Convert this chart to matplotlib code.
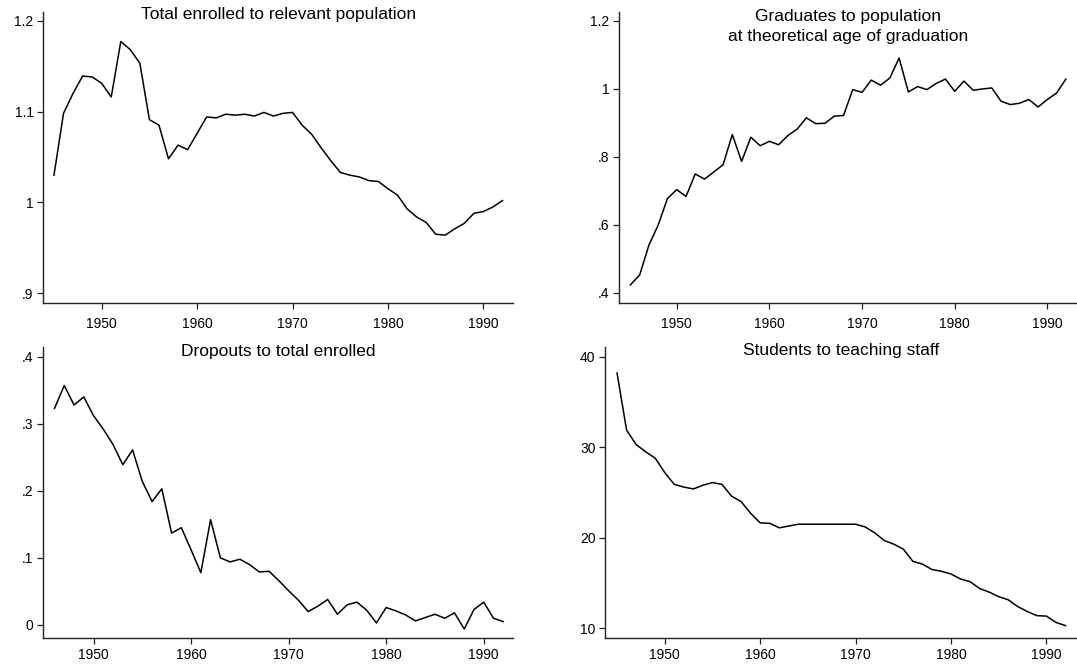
import numpy as np
import matplotlib
matplotlib.use("Agg")
import matplotlib.pyplot as plt

plt.rcParams['font.family'] = ['Liberation Sans', 'DejaVu Sans']

# ---------------- data ----------------
years = list(range(1945, 1993))
years_drop = list(range(1946, 1993))

enrolled_ratio = [1.030, 1.098, 1.120, 1.139, 1.138, 1.131, 1.116, 1.177, 1.168, 1.153,
                  1.091, 1.085, 1.048, 1.063, 1.058, 1.076, 1.094, 1.093, 1.097, 1.096,
                  1.097, 1.095, 1.099, 1.095, 1.098, 1.099, 1.085, 1.075, 1.060, 1.046,
                  1.033, 1.030, 1.028, 1.024, 1.023, 1.015, 1.008, 0.993, 0.984, 0.978,
                  0.965, 0.964, 0.971, 0.977, 0.988, 0.990, 0.995, 1.002]

graduates_ratio = [0.423, 0.452, 0.540, 0.599, 0.677, 0.703, 0.683, 0.749, 0.734, 0.755,
                   0.776, 0.865, 0.786, 0.857, 0.832, 0.845, 0.835, 0.862, 0.881, 0.914,
                   0.897, 0.898, 0.919, 0.921, 0.997, 0.989, 1.025, 1.010, 1.031, 1.090,
                   0.990, 1.006, 0.997, 1.015, 1.028, 0.992, 1.022, 0.995, 0.999, 1.002,
                   0.963, 0.953, 0.957, 0.968, 0.946, 0.968, 0.987, 1.028]

dropout_ratio = [0.323, 0.357, 0.328, 0.340, 0.312, 0.292, 0.269, 0.239, 0.261, 0.214,
                 0.184, 0.203, 0.137, 0.145, 0.112, 0.078, 0.157, 0.100, 0.094, 0.098,
                 0.090, 0.079, 0.080, 0.066, 0.051, 0.037, 0.020, 0.028, 0.038, 0.016,
                 0.030, 0.034, 0.022, 0.003, 0.026, 0.021, 0.015, 0.006, 0.011, 0.016,
                 0.010, 0.018, -0.006, 0.023, 0.034, 0.010, 0.005]

student_staff = [38.2, 31.9, 30.3, 29.5, 28.8, 27.2, 25.9, 25.6, 25.4, 25.8,
                 26.1, 25.9, 24.6, 24.0, 22.7, 21.65, 21.6, 21.1, 21.3, 21.5,
                 21.5, 21.5, 21.5, 21.5, 21.5, 21.5, 21.2, 20.55, 19.7, 19.3,
                 18.75, 17.4, 17.1, 16.5, 16.3, 16.0, 15.45, 15.15, 14.4, 14.0,
                 13.5, 13.15, 12.4, 11.85, 11.4, 11.35, 10.65, 10.3]

x_ticks = [1950, 1960, 1970, 1980, 1990]
x_ticklabels = ["1950", "1960", "1970", "1980", "1990"]

y1_ticks = [0.9, 1.0, 1.1, 1.2]
y1_labels = [".9", "1", "1.1", "1.2"]
y2_ticks = [0.4, 0.6, 0.8, 1.0, 1.2]
y2_labels = [".4", ".6", ".8", "1", "1.2"]
y3_ticks = [0.0, 0.1, 0.2, 0.3, 0.4]
y3_labels = ["0", ".1", ".2", ".3", ".4"]
y4_ticks = [10, 20, 30, 40]
y4_labels = ["10", "20", "30", "40"]

titles = ["Total enrolled to relevant population",
          "Graduates to population\nat theoretical age of graduation",
          "Dropouts to total enrolled",
          "Students to teaching staff"]

# ---------------- layout ----------------
W, H = 1077, 664
fig = plt.figure(figsize=(W / 100, H / 100), dpi=100)


def add_ax(x0, x1, ytop, ybot):
    return fig.add_axes([x0 / W, 1 - ybot / H, (x1 - x0) / W, (ybot - ytop) / H])


panels = [
    dict(rect=(43.3, 513, 12.4, 302.7), x=years, y=enrolled_ratio,
         xlim=(1943.88, 1993.1), ylim=(0.8897, 1.209),
         yt=y1_ticks, yl=y1_labels, title=titles[0], ty=15, xpad=5.5),
    dict(rect=(619, 1077, 12.4, 302.7), x=years, y=graduates_ratio,
         xlim=(1943.77, 1993.2), ylim=(0.3706, 1.224),
         yt=y2_ticks, yl=y2_labels, title=titles[1], ty=26.5, xpad=5.5),
    dict(rect=(43.3, 513, 347.3, 637.7), x=years_drop, y=dropout_ratio,
         xlim=(1944.85, 1993.0), ylim=(-0.019, 0.414),
         yt=y3_ticks, yl=y3_labels, title=titles[2], ty=351.5, xpad=2.8),
    dict(rect=(605.3, 1077, 347.3, 638.3), x=years, y=student_staff,
         xlim=(1943.77, 1993.2), ylim=(8.9, 41.04),
         yt=y4_ticks, yl=y4_labels, title=titles[3], ty=351, xpad=2.8),
]

for p in panels:
    x0, x1, yt, yb = p["rect"]
    ax = add_ax(x0, x1, yt, yb)
    ax.plot(p["x"], p["y"], color="black", lw=1.1, solid_joinstyle="round")
    ax.set_xlim(*p["xlim"])
    ax.set_ylim(*p["ylim"])
    ax.set_xticks(x_ticks)
    ax.set_xticklabels(x_ticklabels)
    ax.set_yticks(p["yt"])
    ax.set_yticklabels(p["yl"])
    for s in ("top", "right"):
        ax.spines[s].set_visible(False)
    for s in ("left", "bottom"):
        ax.spines[s].set_linewidth(1.0)
        ax.spines[s].set_color("#222222")
    ax.tick_params(axis="both", direction="out", length=4.5, width=0.9,
                   color="#222222", labelsize=10, labelcolor="black")
    ax.tick_params(axis="x", pad=p["xpad"])
    ax.tick_params(axis="y", pad=2.5)
    ax.patch.set_visible(False)
    # title placed inside top of panel, centred on the axis span
    cx = (x0 + x1) / 2 / W
    fig.text(cx, 1 - p["ty"] / H, p["title"], ha="center", va="center",
             fontsize=12.5, color="black", linespacing=1.5)

fig.savefig("out.png", dpi=100)
